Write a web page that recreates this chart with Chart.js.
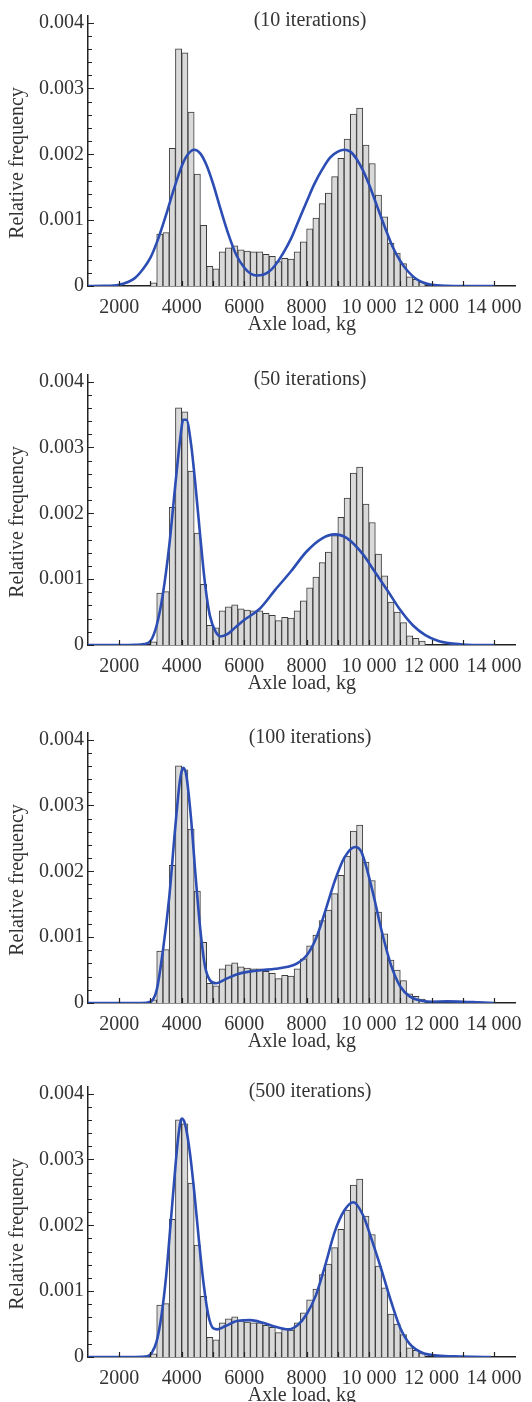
<!DOCTYPE html>
<html lang="en">

<head>
  <meta charset="UTF-8">
  <title>Axle load distribution fits</title>

  <script src="https://cdnjs.cloudflare.com/ajax/libs/Chart.js/4.3.0/chart.umd.js"></script>

  <style>
    body {
      margin: 0;
      background: #fff;
      width: 532px;
      height: 1402px;
      overflow: hidden;
      position: relative;
    }

    .panel {
      position: absolute;
      left: 0;
      width: 532px;
      height: 350px;
    }
  </style>
</head>

<body>

  <div class="panel" style="top: 0px"><canvas id="chart-10"></canvas></div>
  <div class="panel" style="top: 359px"><canvas id="chart-50"></canvas></div>
  <div class="panel" style="top: 717px"><canvas id="chart-100"></canvas></div>
  <div class="panel" style="top: 1071px"><canvas id="chart-500"></canvas></div>

  <script>
    // all frequencies below are in units of 0.001

    // histogram, 200 kg bins (centres)
    const binCenters = [3100, 3300, 3500, 3700, 3900, 4100, 4300, 4500, 4700, 4900,
      5100, 5300, 5500, 5700, 5900, 6100, 6300, 6500, 6700, 6900,
      7100, 7300, 7500, 7700, 7900, 8100, 8300, 8500, 8700, 8900,
      9100, 9300, 9500, 9700, 9900, 10100, 10300, 10500, 10700, 10900,
      11100, 11300, 11500, 11700];
    const relFreq = [0.05, 0.79, 0.81, 2.09, 3.60, 3.54, 2.64, 1.70, 0.92, 0.30,
      0.26, 0.52, 0.58, 0.61, 0.55, 0.53, 0.52, 0.52, 0.48, 0.45,
      0.37, 0.42, 0.41, 0.52, 0.67, 0.87, 1.03, 1.25, 1.41, 1.66,
      1.94, 2.23, 2.61, 2.70, 2.14, 1.86, 1.38, 1.05, 0.65, 0.50,
      0.34, 0.14, 0.10, 0.06];

    // fitted mixture densities
    const fitLoad10 = [1000, 1500, 2000, 2500, 2750, 3000, 3250, 3500, 3750, 4000,
      4200, 4400, 4600, 4800, 5000, 5250, 5500, 5750, 6000, 6200,
      6400, 6600, 6800, 7000, 7250, 7500, 7750, 8000, 8250, 8500,
      8750, 9000, 9200, 9400, 9600, 9800, 10000, 10250, 10500, 10750,
      11000, 11250, 11500, 11750, 12000, 12500, 13000, 14000];
    const fitFreq10 = [0, 0.002, 0.02, 0.12, 0.25, 0.43, 0.72, 1.08, 1.47, 1.82,
      2.00, 2.07, 2.01, 1.83, 1.56, 1.16, 0.78, 0.47, 0.28, 0.19,
      0.16, 0.17, 0.22, 0.32, 0.50, 0.72, 1.00, 1.28, 1.55, 1.77,
      1.95, 2.04, 2.07, 2.04, 1.93, 1.76, 1.54, 1.22, 0.90, 0.60,
      0.38, 0.22, 0.11, 0.05, 0.02, 0.003, 0, 0];

    const fitLoad50 = [1000, 2000, 2500, 2800, 3000, 3200, 3400, 3600, 3800, 3950,
      4050, 4150, 4300, 4450, 4600, 4750, 4900, 5100, 5250, 5450,
      5700, 6000, 6500, 7000, 7500, 8000, 8500, 8900, 9300, 9800,
      10200, 10600, 11000, 11400, 11800, 12200, 12600, 13000, 13500, 14000];
    const fitFreq50 = [0, 0, 0.003, 0.015, 0.06, 0.30, 0.78, 1.50, 2.45, 3.12,
      3.42, 3.42, 3.05, 2.38, 1.62, 0.92, 0.45, 0.19, 0.13, 0.16,
      0.26, 0.38, 0.55, 0.84, 1.12, 1.42, 1.62, 1.68, 1.62, 1.38,
      1.10, 0.82, 0.53, 0.30, 0.15, 0.065, 0.025, 0.008, 0.001, 0];

    const fitLoad100 = [1000, 2700, 3000, 3200, 3400, 3600, 3800, 3950, 4050, 4150,
      4300, 4450, 4600, 4750, 4900, 5100, 5400, 5800, 6200, 6600,
      7000, 7400, 7700, 8000, 8300, 8600, 8900, 9200, 9550, 9750,
      9950, 10150, 10400, 10700, 11000, 11300, 11600, 12000, 12500, 13000,
      13500, 14000];
    const fitFreq100 = [0, 0, 0.02, 0.2, 0.8, 1.6, 2.7, 3.4, 3.57, 3.45,
      2.8, 1.9, 1.1, 0.55, 0.35, 0.30, 0.36, 0.44, 0.48, 0.50,
      0.52, 0.55, 0.60, 0.72, 0.98, 1.40, 1.85, 2.2, 2.37, 2.3,
      2.0, 1.62, 1.10, 0.58, 0.25, 0.10, 0.04, 0.02, 0.025, 0.02,
      0.01, 0];

    const fitLoad500 = [1000, 2500, 2900, 3050, 3200, 3350, 3500, 3650, 3800, 3900,
      4000, 4100, 4250, 4400, 4550, 4700, 4850, 5000, 5150, 5400,
      5800, 6200, 6600, 7000, 7400, 7700, 8000, 8300, 8600, 8900,
      9200, 9500, 9800, 10100, 10400, 10700, 11000, 11300, 11700, 12100,
      12700, 13300, 13900];
    const fitFreq500 = [0, 0, 0.01, 0.07, 0.24, 0.62, 1.22, 2.05, 2.90, 3.38,
      3.62, 3.55, 3.15, 2.52, 1.78, 1.12, 0.64, 0.44, 0.42, 0.47,
      0.55, 0.56, 0.52, 0.46, 0.42, 0.48, 0.65, 0.94, 1.40, 1.90,
      2.22, 2.35, 2.16, 1.76, 1.32, 0.85, 0.44, 0.20, 0.065, 0.025,
      0.01, 0.003, 0];

    const panelTitles = ['(10 iterations)', '(50 iterations)', '(100 iterations)', '(500 iterations)'];
    const loadTicks = [2000, 4000, 6000, 8000, 10000, 12000, 14000];
    const freqTicks = [0, 0.001, 0.002, 0.003, 0.004];

    const font = { family: '"Liberation Serif", serif', size: 20 };
    const textColor = '#333';
    const axisColor = '#222';

    function toPoints(xs, ys) {
      return xs.map((x, i) => ({ x: x, y: ys[i] / 1000 }))
    }

    function fmtLoad(v) {
      if (v >= 10000) return Math.floor(v / 1000) + ' ' + String(v % 1000).padStart(3, '0');
      return String(v);
    }

    // inward tick marks, panel title and y label
    const panelDecor = {
      id: 'panelDecor',
      afterDraw(chart, args, opts) {
        const { ctx, chartArea: a, scales: { x, y } } = chart;
        ctx.save();
        ctx.strokeStyle = axisColor;
        ctx.lineWidth = 1.2;
        ctx.beginPath();
        for (let i = 0; i <= 20; i++) {
          const py = Math.round(y.getPixelForValue(i * 0.0002)) + 0.5;
          const len = i % 5 === 0 ? 6 : 4;
          ctx.moveTo(a.left, py);
          ctx.lineTo(a.left + len, py);
        }
        for (let v = 2000; v <= 14000; v += 1000) {
          const px = Math.round(x.getPixelForValue(v)) + 0.5;
          ctx.moveTo(px, a.bottom);
          ctx.lineTo(px, a.bottom - 5);
        }
        ctx.stroke();

        ctx.fillStyle = textColor;
        ctx.font = font.size + 'px ' + font.family;
        ctx.textAlign = 'center';
        ctx.textBaseline = 'middle';
        ctx.fillText(opts.title, 310, a.top + 5);

        ctx.translate(18, (a.top + a.bottom) / 2 + 12);
        ctx.rotate(-Math.PI / 2);
        ctx.fillText('Relative frequency', 0, 0);
        ctx.restore();
      }
    };

    function createPanel(id, title, fitX, fitY) {
      new Chart(document.getElementById(id), {
        type: 'bar',
        data: {
          datasets: [
            {
              type: 'line',
              data: toPoints(fitX, fitY),
              borderColor: '#2c4db3',
              borderWidth: 2.6,
              pointRadius: 0,
              fill: false,
              cubicInterpolationMode: 'monotone',
              order: 0
            },
            {
              type: 'bar',
              data: toPoints(binCenters, relFreq),
              backgroundColor: '#d9d9d9',
              borderColor: '#3c3c3c',
              borderWidth: 1,
              barPercentage: 1,
              categoryPercentage: 1,
              order: 1
            }
          ]
        },
        options: {
          responsive: true,
          maintainAspectRatio: false,
          animation: false,
          layout: { padding: { top: 13, right: 10, left: 0, bottom: 0 } },
          plugins: {
            legend: { display: false },
            tooltip: { enabled: false },
            panelDecor: { title: title }
          },
          scales: {
            x: {
              type: 'linear',
              min: 1000,
              max: 14700,
              offset: false,
              grid: { display: false, drawTicks: false },
              border: { color: axisColor, width: 1.5 },
              ticks: {
                autoSkip: false,
                maxRotation: 0,
                padding: 10,
                color: textColor,
                font: font,
                callback: v => fmtLoad(v)
              },
              afterBuildTicks(s) { s.ticks = loadTicks.map(v => ({ value: v })); },
              title: {
                display: true,
                text: 'Axle load, kg',
                color: textColor,
                font: font,
                padding: { top: 0, bottom: 13 }
              },
              afterFit(s) { s.height = 64; }
            },
            y: {
              min: 0,
              max: 0.0041,
              grid: { display: false, drawTicks: false },
              border: { color: axisColor, width: 1.5 },
              ticks: {
                padding: 4,
                color: textColor,
                font: font,
                callback: v => v === 0 ? '0' : v.toFixed(3)
              },
              afterBuildTicks(s) { s.ticks = freqTicks.map(v => ({ value: v })); },
              afterFit(s) { s.width = 88; }
            }
          }
        },
        plugins: [panelDecor]
      });
    }

    createPanel('chart-10', panelTitles[0], fitLoad10, fitFreq10);
    createPanel('chart-50', panelTitles[1], fitLoad50, fitFreq50);
    createPanel('chart-100', panelTitles[2], fitLoad100, fitFreq100);
    createPanel('chart-500', panelTitles[3], fitLoad500, fitFreq500);
  </script>
</body>

</html>
